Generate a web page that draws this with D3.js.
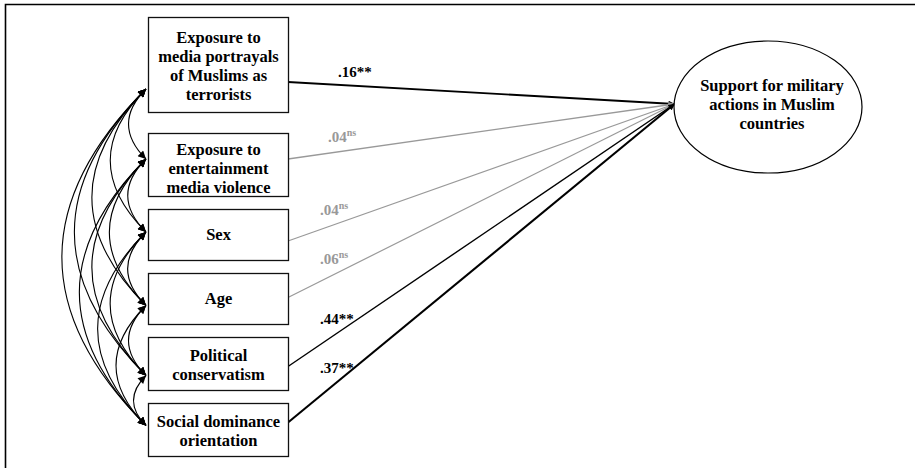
<!DOCTYPE html>
<html><head><meta charset="utf-8">
<script src="https://cdn.jsdelivr.net/npm/d3@7"></script>
<style>html,body{margin:0;padding:0;background:#fff;} svg{display:block;}</style>
</head><body><svg id="chart" width="915" height="468"></svg>
<script>
// Path model: six predictors -> support for military actions
const predictors = [
  ["Exposure to", "media portrayals", "of Muslims as", "terrorists"],
  ["Exposure to", "entertainment", "media violence"],
  ["Sex"],
  ["Age"],
  ["Political", "conservatism"],
  ["Social dominance", "orientation"]
];
const outcome = ["Support for military", "actions in Muslim", "countries"];
const coefficients = [".16", ".04", ".04", ".06", ".44", ".37"];
const significance = ["**", "ns", "ns", "ns", "**", "**"];

// ---- layout ----
const W = 915, H = 468;
const font = "'Liberation Serif','Times New Roman',serif";
const nodeFontSize = 16.5;
const boxX = 148, boxW = 140, boxTop = 17, firstGap = 21, gap = 13;
const boxHeightByLines = {1: 51, 2: 53, 3: 63, 4: 95};
const lineHeight = 19;
const ell = {cx: 768, cy: 107, rx: 94, ry: 66};
const exitDy = [17.5, -5.5, 6.5, -1, 3, -7];      // where each path leaves its box
const anchorDy = [24.5, -5.5, -2.5, 7, 12, -4];    // where covariance arcs meet the box
const textDy = [7, 9, 5.5, 5.5, 6.5, 7];           // vertical nudge of box text
const labelDx = [50, 40, 32, 32, 32, 32];
const pathWidth = [1.9, 1.3, 1.2, 1.2, 1.4, 2.1];
const black = "#000", grey = "#999";

// stack the boxes top to bottom
let y = boxTop;
const boxes = predictors.map((lines, i) => {
  if (i > 0) y += (i === 1 ? firstGap : gap);
  const h = boxHeightByLines[lines.length];
  const b = {lines, i, y0: y, h, cy: y + h / 2};
  y += h;
  return b;
});

const svg = d3.select("#chart");

// frame
svg.append("path").attr("d", `M5.5,${H} V4.5 H${W}`)
  .attr("fill", "none").attr("stroke", black).attr("stroke-width", 1.6);

const defs = svg.append("defs");
function marker(id, color, len, wid) {
  defs.append("marker").attr("id", id)
    .attr("viewBox", "0 0 10 10").attr("refX", 10).attr("refY", 5)
    .attr("markerUnits", "userSpaceOnUse")
    .attr("markerWidth", len).attr("markerHeight", wid)
    .attr("orient", "auto-start-reverse")
    .append("path").attr("d", "M0,0 L10,5 L0,10 z").attr("fill", color);
}
marker("covHead", black, 10, 8);
marker("pathBlack", black, 9, 6);
marker("pathGrey", grey, 9, 6);

// covariance arcs between every pair of predictors
const pairs = [];
for (let a = 0; a < boxes.length; a++)
  for (let b = a + 1; b < boxes.length; b++) pairs.push([a, b]);

const ax = boxX - 2;
svg.append("g").selectAll("path").data(pairs).join("path")
  .attr("d", ([a, b]) => {
    const ya = boxes[a].cy + anchorDy[a], yb = boxes[b].cy + anchorDy[b];
    const p = d3.path();
    p.moveTo(ax, ya);
    p.quadraticCurveTo(ax - (yb - ya) / 2, (ya + yb) / 2, ax, yb);
    return p.toString();
  })
  .attr("fill", "none").attr("stroke", black).attr("stroke-width", 1.1)
  .attr("marker-start", "url(#covHead)").attr("marker-end", "url(#covHead)");

// direct paths to the outcome
const tip = [ell.cx - ell.rx + 0.5, ell.cy - 3];
const sig = i => significance[i] !== "ns";
svg.append("g").selectAll("line").data(boxes).join("line")
  .attr("x1", boxX + boxW).attr("y1", d => d.cy + exitDy[d.i])
  .attr("x2", tip[0]).attr("y2", tip[1])
  .attr("stroke", d => sig(d.i) ? black : grey)
  .attr("stroke-width", d => pathWidth[d.i])
  .attr("marker-end", d => sig(d.i) ? "url(#pathBlack)" : "url(#pathGrey)");

// coefficient labels above each path
const lineY = (d, x) => {
  const x0 = boxX + boxW, y0 = d.cy + exitDy[d.i];
  return y0 + (tip[1] - y0) * (x - x0) / (tip[0] - x0);
};
const labels = svg.append("g").selectAll("text").data(boxes).join("text")
  .attr("x", d => boxX + boxW + labelDx[d.i])
  .attr("y", d => lineY(d, boxX + boxW + labelDx[d.i] + 17) - 9)
  .attr("font-family", font).attr("font-weight", "bold").attr("font-size", 15)
  .attr("fill", d => sig(d.i) ? black : grey);
labels.append("tspan").text(d => coefficients[d.i] + (sig(d.i) ? significance[d.i] : ""));
labels.filter(d => !sig(d.i)).append("tspan")
  .attr("font-size", 10).attr("dy", -6).text(d => significance[d.i]);

// predictor boxes
const bg = svg.append("g").selectAll("g").data(boxes).join("g");
bg.append("rect")
  .attr("x", boxX + 0.5).attr("y", d => d.y0 + 0.5)
  .attr("width", boxW).attr("height", d => d.h)
  .attr("fill", "#fff").attr("stroke", "#111").attr("stroke-width", 1.3);
bg.each(function (d) {
  const n = d.lines.length;
  d3.select(this).selectAll("text").data(d.lines).join("text")
    .attr("x", boxX + boxW / 2 + 0.5)
    .attr("y", (t, k) => d.cy + textDy[d.i] + (k - (n - 1) / 2) * lineHeight)
    .attr("text-anchor", "middle")
    .attr("font-family", font).attr("font-weight", "bold").attr("font-size", nodeFontSize)
    .attr("fill", black).text(t => t);
});

// outcome ellipse
svg.append("ellipse")
  .attr("cx", ell.cx).attr("cy", ell.cy).attr("rx", ell.rx).attr("ry", ell.ry)
  .attr("fill", "#fff").attr("stroke", black).attr("stroke-width", 1.2);
svg.append("g").selectAll("text").data(outcome).join("text")
  .attr("x", ell.cx + 4)
  .attr("y", (t, k) => ell.cy + 3 + (k - 1) * 19)
  .attr("text-anchor", "middle")
  .attr("font-family", font).attr("font-weight", "bold").attr("font-size", nodeFontSize)
  .attr("fill", black).text(t => t);
</script>
</body></html>
